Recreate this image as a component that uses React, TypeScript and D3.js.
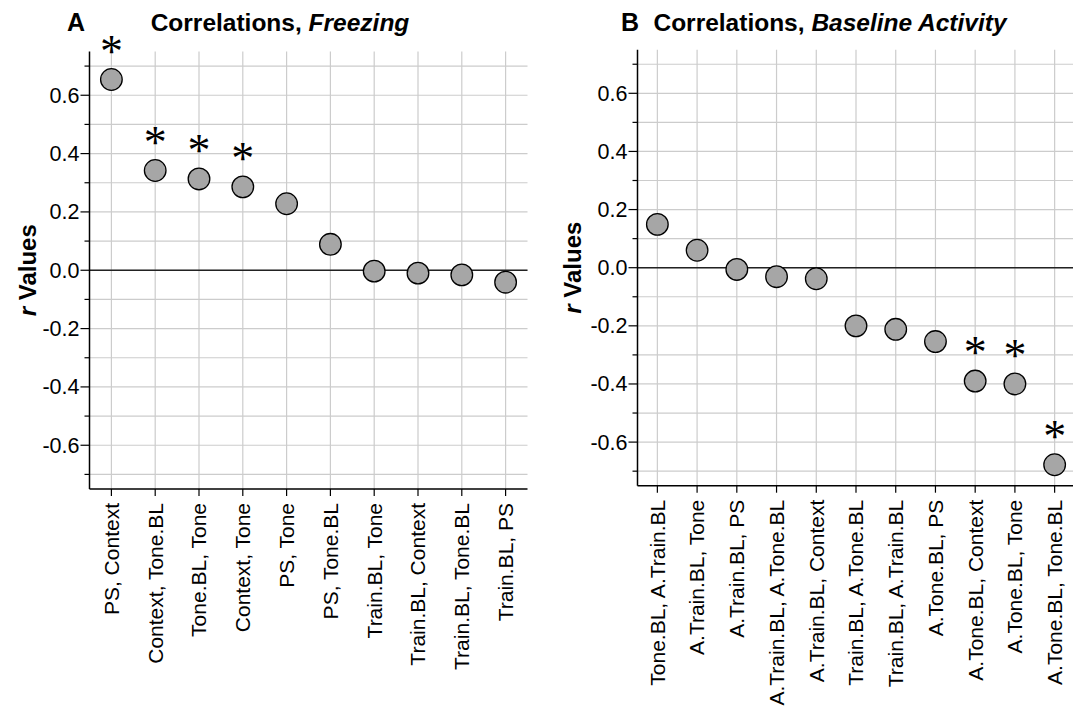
import React from "react";
import * as d3 from "d3";

const catsA = ["PS, Context", "Context, Tone.BL", "Tone.BL, Tone", "Context, Tone", "PS, Tone", "PS, Tone.BL", "Train.BL, Tone", "Train.BL, Context", "Train.BL, Tone.BL", "Train.BL, PS"];
const valsA = [0.654, 0.342, 0.313, 0.286, 0.228, 0.089, -0.003, -0.010, -0.016, -0.041];
const sigA = [true, true, true, true, false, false, false, false, false, false];

const catsB = ["Tone.BL, A.Train.BL", "A.Train.BL, Tone", "A.Train.BL, PS", "A.Train.BL, A.Tone.BL", "A.Train.BL, Context", "Train.BL, A.Tone.BL", "Train.BL, A.Train.BL", "A.Tone.BL, PS", "A.Tone.BL, Context", "A.Tone.BL, Tone", "A.Tone.BL, Tone.BL"];
const valsB = [0.149, 0.060, -0.006, -0.031, -0.038, -0.200, -0.212, -0.254, -0.390, -0.400, -0.678];
const sigB = [false, false, false, false, false, false, false, false, true, true, true];

const majorTicks = [-0.6, -0.4, -0.2, 0, 0.2, 0.4, 0.6];
const minorTicks = [-0.7, -0.5, -0.3, -0.1, 0.1, 0.3, 0.5, 0.7];
const yDomain = [-0.75, 0.75];

const SANS = "'Liberation Sans', Arial, Helvetica, sans-serif";
const SERIF = "'Liberation Serif', 'Times New Roman', serif";

function Panel({ cats, vals, sig, left, right, top, bottom, letter, letterX, titleX, titleItalic, ylabX }) {
  const x = d3.scalePoint().domain(cats).range([left, right]).padding(0.5);
  const y = d3.scaleLinear().domain(yDomain).range([bottom, top]);
  const allTicks = [...majorTicks, ...minorTicks];
  return (
    <g>
      <text x={letterX} y={31} fontFamily={SANS} fontWeight="bold" fontSize={25}>{letter}</text>
      <text x={titleX} y={31} fontFamily={SANS} fontWeight="bold" fontSize={24.5} textAnchor="middle">
        Correlations, <tspan fontStyle="italic">{titleItalic}</tspan>
      </text>
      {allTicks.map((t) => (
        <line key={"h" + t} x1={left} x2={right} y1={y(t)} y2={y(t)} stroke="#cccccc" strokeWidth={1.2} />
      ))}
      {cats.map((c) => (
        <line key={"v" + c} x1={x(c)} x2={x(c)} y1={top} y2={bottom} stroke="#cccccc" strokeWidth={1.2} />
      ))}
      <line x1={left} x2={right} y1={y(0)} y2={y(0)} stroke="#222" strokeWidth={1.4} />
      <line x1={left} x2={left} y1={top} y2={bottom} stroke="#000" strokeWidth={1.5} />
      <line x1={left} x2={right} y1={bottom} y2={bottom} stroke="#000" strokeWidth={1.5} />
      {majorTicks.map((t) => (
        <g key={"mt" + t}>
          <line x1={left - 9} x2={left} y1={y(t)} y2={y(t)} stroke="#000" strokeWidth={1.2} />
          <text x={left - 10} y={y(t)} dy="0.35em" textAnchor="end" fontFamily={SANS} fontSize={21.5}>
            {d3.format(".1f")(t).replace("−", "-")}
          </text>
        </g>
      ))}
      {minorTicks.map((t) => (
        <line key={"nt" + t} x1={left - 5} x2={left} y1={y(t)} y2={y(t)} stroke="#000" strokeWidth={1.2} />
      ))}
      {cats.map((c) => (
        <g key={"xt" + c}>
          <line x1={x(c)} x2={x(c)} y1={bottom} y2={bottom + 7} stroke="#000" strokeWidth={1.2} />
          <text transform={`translate(${x(c)},${bottom + 14}) rotate(-90)`} dy="0.35em" textAnchor="end" fontFamily={SANS} fontSize={21}>
            {c}
          </text>
        </g>
      ))}
      <text transform={`translate(${ylabX},${(top + bottom) / 2}) rotate(-90)`} textAnchor="middle" fontFamily={SANS} fontWeight="bold" fontSize={24}>
        <tspan fontStyle="italic">r</tspan> Values
      </text>
      {cats.map((c, i) => (
        <circle key={"p" + c} cx={x(c)} cy={y(vals[i])} r={10.8} fill="#a6a6a6" stroke="#000" strokeWidth={1.3} />
      ))}
      {cats.map((c, i) =>
        sig[i] ? (
          <text key={"s" + c} x={x(c)} y={y(vals[i]) - 30 + 17} textAnchor="middle" fontFamily={SERIF} fontSize={46}>
            *
          </text>
        ) : null
      )}
    </g>
  );
}

export default function App() {
  return (
    <svg width={1073} height={712} style={{ position: "absolute", left: 0, top: 0, background: "#fff" }}>
      <rect x={0} y={0} width={1073} height={712} fill="#fff" />
      <Panel cats={catsA} vals={valsA} sig={sigA} left={89.5} right={527.5} top={51.5} bottom={489}
        letter="A" letterX={67} titleX={280} titleItalic="Freezing" ylabX={36} />
      <Panel cats={catsB} vals={valsB} sig={sigB} left={637.5} right={1074.5} top={49.7} bottom={485.7}
        letter="B" letterX={621} titleX={830} titleItalic="Baseline Activity" ylabX={581} />
    </svg>
  );
}
